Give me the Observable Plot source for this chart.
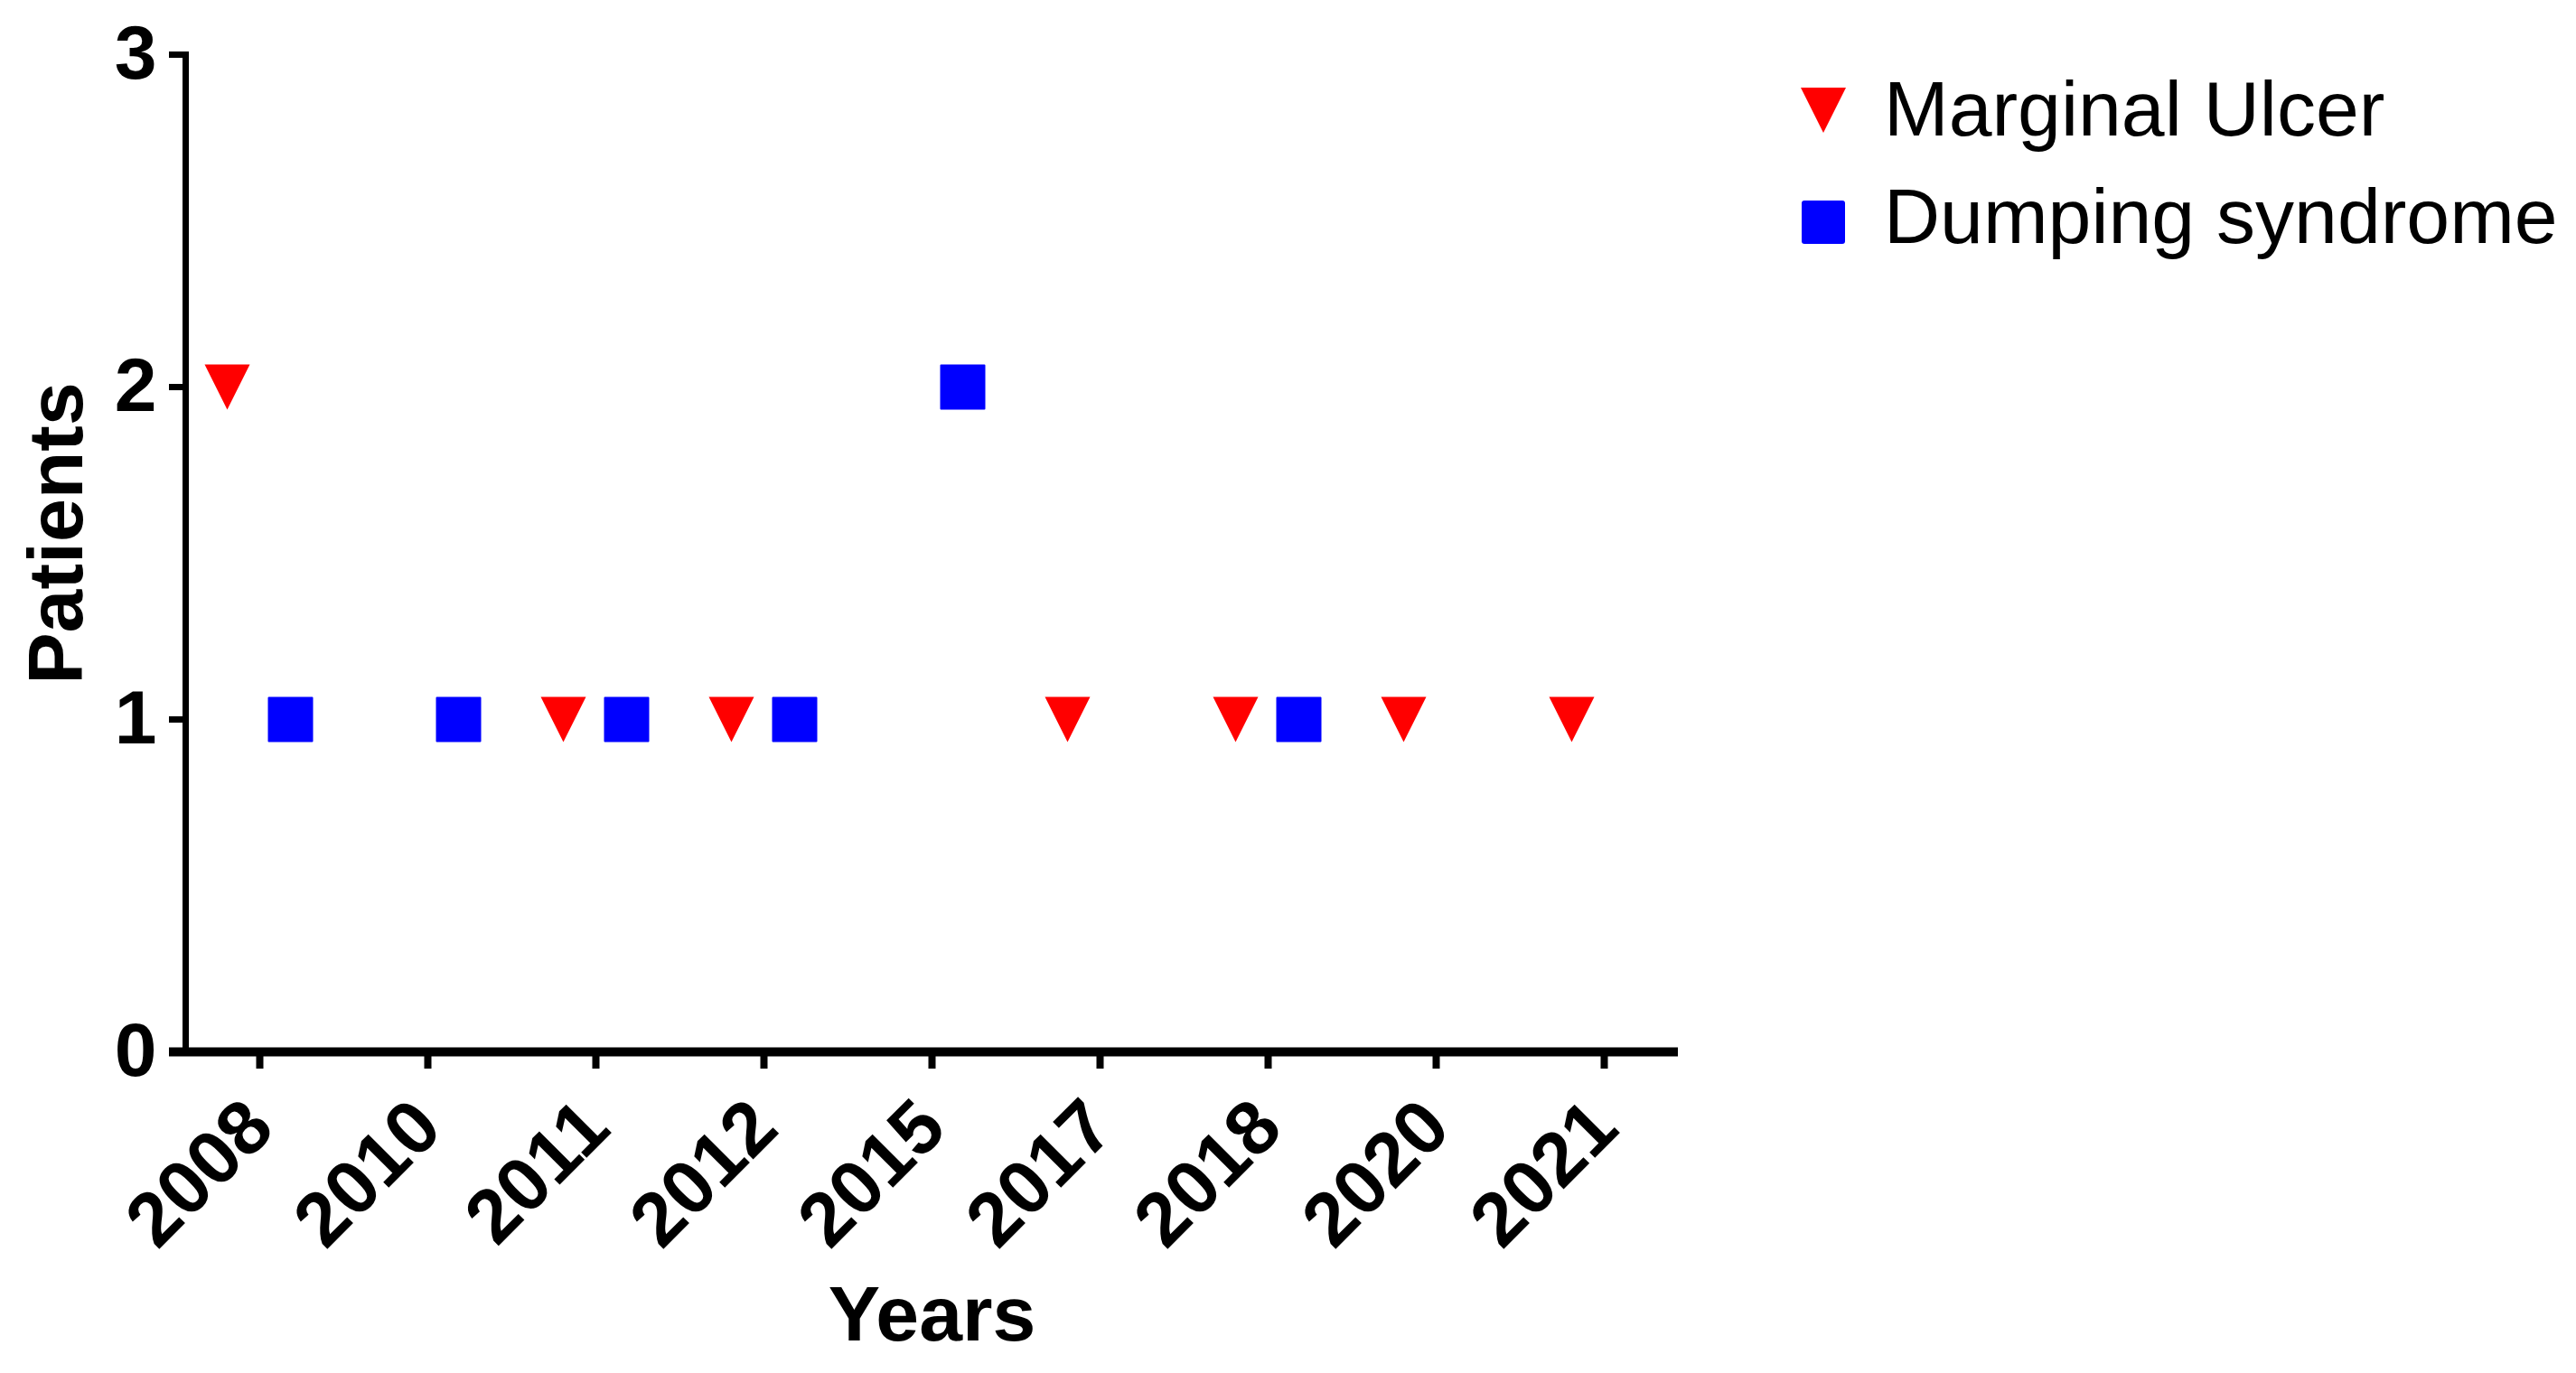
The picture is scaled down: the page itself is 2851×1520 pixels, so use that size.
<!DOCTYPE html>
<html>
<head>
<meta charset="utf-8">
<script src="https://cdn.jsdelivr.net/npm/d3@7"></script>
<script src="https://cdn.jsdelivr.net/npm/@observablehq/plot@0.6"></script>
<style>
  html, body { margin: 0; padding: 0; background: #fff; overflow: hidden; }
  #wrap { position: relative; width: 2851px; height: 1520px; font-family: "Liberation Sans", Arial, sans-serif; }
  #chart { position: absolute; left: 0; top: 0; }
  .leg-sym { position: absolute; left: 1993px; }
  .leg-txt { position: absolute; left: 2085px; font-size: 86px; line-height: 86px; color: #000; white-space: nowrap; }
</style>
</head>
<body>
<div id="wrap">
  <div id="chart"></div>
  <svg class="leg-sym" style="top:97px" width="50" height="50"><path d="M0,0L50,0L25,50Z" fill="#ff0000"/></svg>
  <div class="leg-txt" style="top:77px">Marginal Ulcer</div>
  <svg class="leg-sym" style="top:221px" width="50" height="50"><rect x="1" y="1" width="48" height="48" rx="3" fill="#0000ff"/></svg>
  <div class="leg-txt" style="top:196px">Dumping syndrome</div>
</div>
<script>
// Categories (x axis tick labels)
const years = ["2008", "2010", "2011", "2012", "2015", "2017", "2018", "2020", "2021"];
const yTicks = [0, 1, 2, 3];

// Series: Marginal Ulcer
const ulcerYears = ["2008", "2011", "2012", "2017", "2018", "2020", "2021"];
const ulcerPatients = [2, 1, 1, 1, 1, 1, 1];

// Series: Dumping syndrome
const dumpingYears = ["2008", "2010", "2011", "2012", "2015", "2018"];
const dumpingPatients = [1, 1, 1, 1, 2, 1];

const ulcer = ulcerYears.map((y, i) => ({year: y, patients: ulcerPatients[i]}));
const dumping = dumpingYears.map((y, i) => ({year: y, patients: dumpingPatients[i]}));

const triDown = {
  draw(ctx, size) {
    const r = Math.sqrt(size / Math.PI);
    ctx.moveTo(-r, -r); ctx.lineTo(r, -r); ctx.lineTo(0, r); ctx.closePath();
  }
};
const square = {
  draw(ctx, size) {
    const r = Math.sqrt(size / Math.PI);
    ctx.moveTo(-r, -r); ctx.lineTo(r, -r); ctx.lineTo(r, r); ctx.lineTo(-r, r); ctx.closePath();
  }
};

const chart = Plot.plot({
  width: 1900,
  height: 1520,
  marginLeft: 205,
  marginRight: 43,
  marginTop: 60,
  marginBottom: 356,
  style: {fontFamily: "'Liberation Sans', Arial, sans-serif", fontSize: "84px", color: "#000", background: "#fff"},
  x: {type: "point", domain: years, padding: 0.44},
  y: {domain: [0, 3]},
  marks: [
    Plot.frame({anchor: "left", strokeWidth: 7}),
    Plot.ruleY([0], {strokeWidth: 10, insetLeft: -18}),
    Plot.axisY({ticks: yTicks, tickSize: 18, tickPadding: 14, strokeWidth: 7, fontSize: 84, fontWeight: "bold", label: null, tickFormat: d => String(d)}),
    Plot.axisX({tickRotate: -45, tickSize: 19, tickPadding: 50, strokeWidth: 8, fontSize: 84, fontWeight: "bold", label: null}),
    Plot.dot(ulcer, {x: "year", y: "patients", symbol: triDown, r: 25, fill: "#ff0000", dx: -36}),
    Plot.dot(dumping, {x: "year", y: "patients", symbol: square, r: 24, fill: "#0000ff", stroke: "#0000ff", strokeWidth: 2, strokeLinejoin: "round", dx: 34}),
    Plot.text(["Years"], {text: d => d, frameAnchor: "bottom", textAnchor: "middle", dy: 319, lineAnchor: "bottom", fontWeight: "bold", fontSize: 86}),
    Plot.text(["Patients"], {text: d => d, frameAnchor: "left", textAnchor: "middle", rotate: -90, dx: -115, dy: -22, lineAnchor: "bottom", fontWeight: "bold", fontSize: 86})
  ]
});
document.getElementById("chart").appendChild(chart);
</script>
</body>
</html>
